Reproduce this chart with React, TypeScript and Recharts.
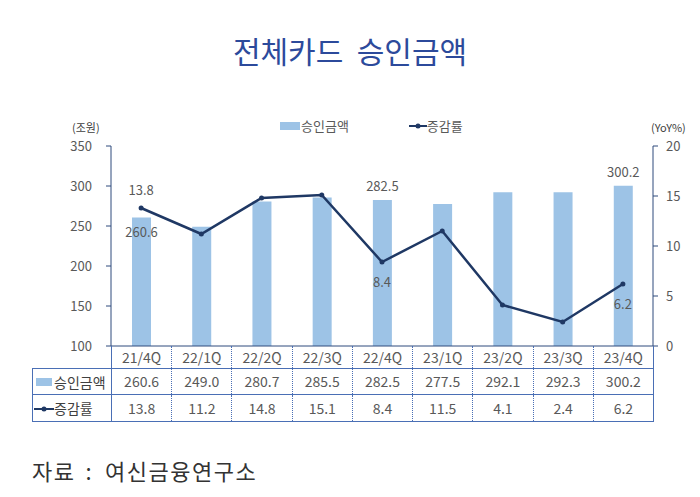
import React from "react";
import {
  Bar,
  ComposedChart,
  LabelList,
  Line,
  ReferenceLine,
  YAxis,
  XAxis,
} from "recharts";

const categories = ["21/4Q", "22/1Q", "22/2Q", "22/3Q", "22/4Q", "23/1Q", "23/2Q", "23/3Q", "23/4Q"];
const amounts = [260.6, 249.0, 280.7, 285.5, 282.5, 277.5, 292.1, 292.3, 300.2];
const growth = [13.8, 11.2, 14.8, 15.1, 8.4, 11.5, 4.1, 2.4, 6.2];
const leftTicks = [100, 150, 200, 250, 300, 350];
const rightTicks = [0, 5, 10, 15, 20];

const barLabelIdx = [0, 4, 8];
const lineLabelIdx = [0, 4, 8];

const FONT = "'Noto Sans CJK KR', 'Noto Sans', sans-serif";
const BAR = "#9dc3e6";
const LINE = "#1f3864";
const AXIS = "#2e4a7d";
const TEXT = "#595959";
const BORDER = "#4a6fb5";

const data = categories.map((name, i) => ({ name, amount: amounts[i], growth: growth[i] }));

function BarLabel(props: any) {
  const { x, y, width, value, index } = props;
  if (!barLabelIdx.includes(index)) return null;
  // first bar label sits inside the bar, others above
  const inside = index === 0;
  return (
    <text
      x={x + width / 2}
      y={inside ? y + 19 : y - 9}
      textAnchor="middle"
      fontSize={13}
      fill={TEXT}
      fontFamily={FONT}
    >
      {Number(value).toFixed(1)}
    </text>
  );
}

function LineLabel(props: any) {
  const { x, y, value, index } = props;
  if (!lineLabelIdx.includes(index)) return null;
  const above = index === 0;
  return (
    <text
      x={x}
      y={above ? y - 13 : y + 25}
      textAnchor="middle"
      fontSize={13}
      fill={TEXT}
      fontFamily={FONT}
    >
      {Number(value).toFixed(1)}
    </text>
  );
}

const cell: React.CSSProperties = {
  borderLeft: `1px dotted ${BORDER}`,
  borderRight: `1px dotted ${BORDER}`,
  textAlign: "center",
  padding: 0,
  color: TEXT,
  fontSize: 14,
};

export default function App() {
  const colW = (653 - 111) / categories.length;
  return (
    <div
      style={{
        position: "absolute",
        left: 0,
        top: 0,
        width: 700,
        height: 497,
        background: "#fff",
        fontFamily: FONT,
      }}
    >
      <div
        style={{
          position: "absolute",
          top: 33,
          width: 700,
          textAlign: "center",
          fontSize: 30,
          lineHeight: "34px",
          color: "#2c4a9b",
          fontWeight: 400,
        }}
      >
        전체카드&nbsp;&nbsp;승인금액
      </div>

      {/* legend */}
      <div style={{ position: "absolute", top: 116, left: 280, display: "flex", alignItems: "center", fontSize: 13, color: TEXT }}>
        <span style={{ display: "inline-block", width: 20, height: 8, background: BAR }} />
        <span style={{ marginLeft: 1 }}>승인금액</span>
        <svg width={18} height={10} style={{ marginLeft: 60 }}>
          <line x1={0} y1={5} x2={18} y2={5} stroke={LINE} strokeWidth={2} />
          <circle cx={9} cy={5} r={2.5} fill={LINE} />
        </svg>
        <span>증감률</span>
      </div>

      <div style={{ position: "absolute", top: 119, left: 72, fontSize: 11, color: "#404040" }}>(조원)</div>
      <div style={{ position: "absolute", top: 119, left: 651, fontSize: 11, color: "#404040" }}>(YoY%)</div>

      <div style={{ position: "absolute", left: 0, top: 0 }}>
        <ComposedChart
          width={700}
          height={360}
          data={data}
          margin={{ top: 146, right: 0, bottom: 14, left: 61 }}
          barCategoryGap={0}
        >
          <XAxis dataKey="name" hide />
          <YAxis
            yAxisId="left"
            orientation="left"
            width={50}
            domain={[100, 350]}
            ticks={leftTicks}
            interval={0}
            tickSize={5}
            tickMargin={14}
            stroke={AXIS}
            tick={{ fill: TEXT, fontSize: 13, fontFamily: FONT }}
          />
          <YAxis
            yAxisId="right"
            orientation="right"
            width={47}
            domain={[0, 20]}
            ticks={rightTicks}
            interval={0}
            tickSize={5}
            tickMargin={8}
            stroke={AXIS}
            tick={{ fill: TEXT, fontSize: 13, fontFamily: FONT }}
          />
          <ReferenceLine yAxisId="left" y={100} stroke={AXIS} />
          <Bar yAxisId="left" dataKey="amount" fill={BAR} barSize={19} isAnimationActive={false}>
            <LabelList dataKey="amount" content={BarLabel} />
          </Bar>
          <Line
            yAxisId="right"
            dataKey="growth"
            stroke={LINE}
            strokeWidth={2.5}
            dot={{ r: 2.5, fill: LINE, stroke: "none" }}
            activeDot={false}
            isAnimationActive={false}
          >
            <LabelList dataKey="growth" content={LineLabel} />
          </Line>
        </ComposedChart>
      </div>

      {/* data table */}
      <table
        style={{
          position: "absolute",
          left: 32,
          top: 346,
          width: 621,
          borderCollapse: "collapse",
          tableLayout: "fixed",
          fontFamily: FONT,
        }}
      >
        <colgroup>
          <col style={{ width: 79 }} />
          {categories.map((c) => (
            <col key={c} style={{ width: colW }} />
          ))}
        </colgroup>
        <tbody>
          <tr style={{ height: 22 }}>
            <td style={{ border: "none" }} />
            {categories.map((c, i) => (
              <td
                key={c}
                style={{
                  ...cell,
                  borderLeft: i === 0 ? `1px solid ${BORDER}` : cell.borderLeft,
                  borderRight: i === categories.length - 1 ? `1px solid ${BORDER}` : cell.borderRight,
                }}
              >
                {c}
              </td>
            ))}
          </tr>
          <tr style={{ height: 26 }}>
            <td
              style={{
                border: `1px solid ${BORDER}`,
                padding: 0,
                fontSize: 14,
                color: "#404040",
                whiteSpace: "nowrap",
              }}
            >
              <span style={{ display: "inline-block", width: 16, height: 8, background: BAR, marginLeft: 3, marginRight: 2, verticalAlign: "middle" }} />
              <span style={{ verticalAlign: "middle" }}>승인금액</span>
            </td>
            {amounts.map((v, i) => (
              <td
                key={i}
                style={{
                  ...cell,
                  borderTop: `1px solid ${BORDER}`,
                  borderBottom: `1px solid ${BORDER}`,
                  borderRight: i === amounts.length - 1 ? `1px solid ${BORDER}` : cell.borderRight,
                  borderLeft: i === 0 ? `1px solid ${BORDER}` : cell.borderLeft,
                }}
              >
                {v.toFixed(1)}
              </td>
            ))}
          </tr>
          <tr style={{ height: 27 }}>
            <td
              style={{
                border: `1px solid ${BORDER}`,
                padding: 0,
                fontSize: 14,
                color: "#404040",
                whiteSpace: "nowrap",
              }}
            >
              <svg width={20} height={10} style={{ marginLeft: 1, verticalAlign: "middle" }}>
                <line x1={0} y1={5} x2={20} y2={5} stroke={LINE} strokeWidth={2} />
                <circle cx={10} cy={5} r={2.5} fill={LINE} />
              </svg>
              <span style={{ verticalAlign: "middle" }}>증감률</span>
            </td>
            {growth.map((v, i) => (
              <td
                key={i}
                style={{
                  ...cell,
                  borderBottom: `1px solid ${BORDER}`,
                  borderRight: i === growth.length - 1 ? `1px solid ${BORDER}` : cell.borderRight,
                  borderLeft: i === 0 ? `1px solid ${BORDER}` : cell.borderLeft,
                }}
              >
                {v.toFixed(1)}
              </td>
            ))}
          </tr>
        </tbody>
      </table>

      <div style={{ position: "absolute", left: 32, top: 454, fontSize: 22, letterSpacing: 1.5, color: "#333", whiteSpace: "nowrap" }}>
        <span>자료</span>
        <span style={{ marginLeft: 10 }}>:</span>
        <span style={{ marginLeft: 12 }}>여신금융연구소</span>
      </div>
    </div>
  );
}
